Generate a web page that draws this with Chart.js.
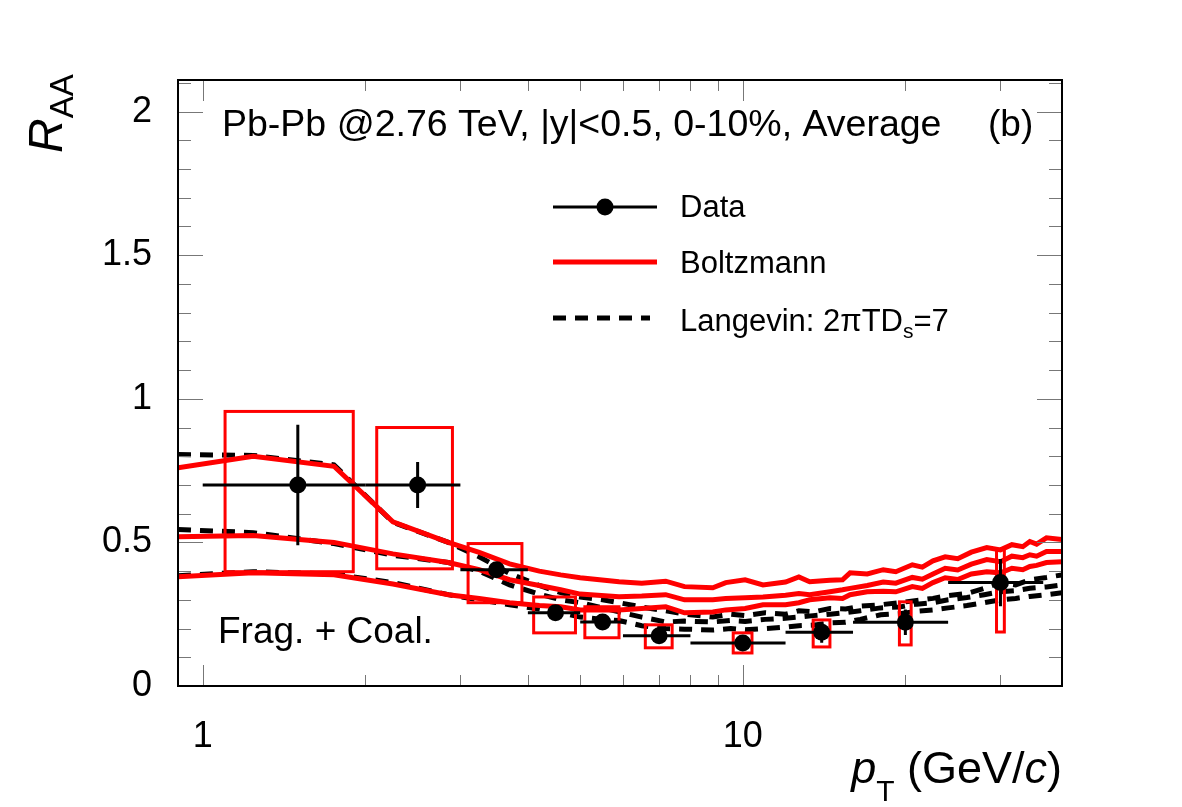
<!DOCTYPE html>
<html>
<head>
<title>RAA Pb-Pb 2.76 TeV</title>
<script src="https://cdn.jsdelivr.net/npm/chart.js@4.4.2/dist/chart.umd.min.js"></script>
<style>
  body { margin: 0; background: #fff; }
  #box { width: 1182px; height: 807px; }
</style>
</head>
<body>
<div id="box"><canvas id="raaChart" width="1182" height="807"></canvas></div>
<script>
// ---- data ----
const dataPt   = [1.5, 2.5, 3.5, 4.5, 5.5, 7, 10, 14, 20, 30];
const dataLow  = [1, 2, 3, 4, 5, 6, 8, 12, 16, 24];
const dataHigh = [2, 3, 4, 5, 6, 8, 12, 16, 24, 36];
const dataRaa  = [0.70, 0.70, 0.405, 0.255, 0.223, 0.175, 0.150, 0.187, 0.222, 0.36];
const statErr  = [0.21, 0.08, 0.02, 0.015, 0.015, 0.012, 0.012, 0.036, 0.044, 0.082];
const sysLow   = [0.398, 0.408, 0.29, 0.185, 0.168, 0.133, 0.115, 0.136, 0.143, 0.188];
const sysHigh  = [0.956, 0.90, 0.496, 0.31, 0.276, 0.213, 0.185, 0.23, 0.293, 0.475];
const sysHalf  = [0.4, 0.4, 0.4, 0.4, 0.4, 0.4, 0.4, 0.5, 0.5, 0.5];

const boltzX = [0.9, 1.24, 1.75, 2.25, 2.85, 3.25, 3.7, 4.2, 4.6, 5.0, 5.9, 6.5, 7.2, 7.8, 8.8, 9.3, 10.1, 10.9,
  12.0, 12.7, 13.3, 14.5, 15.3, 15.8, 17.0, 18.2, 19.2, 20.6, 21.5, 22.5, 23.7, 25.0, 26.5, 28.3, 30.0, 31.5,
  33.0, 34.0, 35.0, 36.5, 39.0];
const boltzTop = [0.76, 0.80, 0.765, 0.572, 0.50, 0.465, 0.425, 0.40, 0.387, 0.377, 0.363, 0.358, 0.365, 0.346,
  0.342, 0.36, 0.37, 0.352, 0.362, 0.38, 0.363, 0.368, 0.37, 0.394, 0.39, 0.405, 0.398, 0.422, 0.414, 0.436,
  0.45, 0.443, 0.466, 0.482, 0.474, 0.492, 0.485, 0.503, 0.494, 0.516, 0.51];
const boltzMid = [0.52, 0.524, 0.50, 0.46, 0.43, 0.405, 0.37, 0.35, 0.335, 0.32, 0.311, 0.313, 0.318, 0.30,
  0.30, 0.305, 0.307, 0.31, 0.316, 0.322, 0.318, 0.328, 0.335, 0.34, 0.35, 0.362, 0.358, 0.378, 0.372, 0.39,
  0.41, 0.404, 0.424, 0.44, 0.433, 0.452, 0.447, 0.457, 0.452, 0.468, 0.468];
const boltzBot = [0.38, 0.394, 0.387, 0.355, 0.318, 0.305, 0.29, 0.28, 0.276, 0.265, 0.265, 0.27, 0.276, 0.255,
  0.258, 0.265, 0.27, 0.283, 0.283, 0.29, 0.30, 0.307, 0.305, 0.318, 0.328, 0.33, 0.328, 0.346, 0.34, 0.36,
  0.377, 0.371, 0.39, 0.398, 0.394, 0.41, 0.405, 0.416, 0.42, 0.43, 0.433];

const langX = [0.9, 1.24, 1.75, 2.25, 2.85, 3.25, 3.7, 4.2, 4.6, 5.0, 5.5, 5.9, 6.5, 7.2, 7.8, 8.8, 9.5, 10.1,
  11.0, 12.0, 12.7, 13.5, 14.5, 15.5, 16.5, 18.0, 19.5, 21.0, 22.5, 24.0, 26.0, 28.0, 30.0, 32.0, 34.0, 36.5, 39.0];
const langTop = [0.806, 0.803, 0.77, 0.57, 0.50, 0.45, 0.392, 0.35, 0.325, 0.31, 0.30, 0.29, 0.275, 0.262, 0.25,
  0.24, 0.25, 0.245, 0.255, 0.25, 0.262, 0.258, 0.27, 0.268, 0.278, 0.283, 0.29, 0.298, 0.305, 0.315, 0.322,
  0.34, 0.36, 0.352, 0.37, 0.378, 0.387];
const langMid = [0.545, 0.534, 0.496, 0.455, 0.43, 0.40, 0.352, 0.32, 0.30, 0.29, 0.272, 0.258, 0.24, 0.223,
  0.226, 0.223, 0.228, 0.225, 0.232, 0.236, 0.24, 0.245, 0.25, 0.255, 0.262, 0.272, 0.275, 0.285, 0.29, 0.30,
  0.308, 0.318, 0.328, 0.332, 0.34, 0.345, 0.352];
const langBot = [0.384, 0.398, 0.39, 0.36, 0.318, 0.30, 0.283, 0.268, 0.255, 0.24, 0.232, 0.228, 0.21, 0.20,
  0.198, 0.195, 0.2, 0.196, 0.2, 0.205, 0.21, 0.212, 0.22, 0.222, 0.232, 0.248, 0.252, 0.26, 0.265, 0.272,
  0.28, 0.29, 0.30, 0.305, 0.312, 0.318, 0.325];

const xLabelVals = [1, 10];
const xMinorVals = [2, 3, 4, 5, 6, 7, 8, 9, 20, 30];
const yLabelVals = [0, 0.5, 1, 1.5, 2];
const yMinorVals = [0.1, 0.2, 0.3, 0.4, 0.6, 0.7, 0.8, 0.9, 1.1, 1.2, 1.3, 1.4, 1.6, 1.7, 1.8, 1.9, 2.0, 2.1];

const FONT = '"Liberation Sans", Arial, Helvetica, sans-serif';
const RED = '#ff0000';

function pts(xs, ys) { return xs.map((x, i) => ({ x: x, y: ys[i] })); }

function redLine(ys) {
  return { data: pts(boltzX, ys), borderColor: RED, borderWidth: 5, pointRadius: 0, fill: false, tension: 0 };
}
function dashLine(ys) {
  return { data: pts(langX, ys), borderColor: '#000', borderWidth: 5, borderDash: [13, 9],
    pointRadius: 0, fill: false, tension: 0 };
}

// draws a sequence of text pieces, each {t, font, dy}
function drawParts(ctx, parts, x, y, align) {
  let total = 0;
  parts.forEach(p => { ctx.font = p.font; total += ctx.measureText(p.t).width; });
  let cx = align === 'right' ? x - total : x;
  ctx.textAlign = 'left';
  ctx.textBaseline = 'alphabetic';
  parts.forEach(p => {
    ctx.font = p.font;
    ctx.fillText(p.t, cx, y + (p.dy || 0));
    cx += ctx.measureText(p.t).width;
  });
}

const rootDecor = {
  id: 'rootDecor',
  beforeDatasetDraw(chart, args) {
    if (args.index !== 0) return;
    const { ctx, scales: { x, y } } = chart;
    ctx.save();
    // systematic boxes
    ctx.strokeStyle = RED;
    ctx.lineWidth = 3;
    dataPt.forEach((pt, i) => {
      const x0 = x.getPixelForValue(pt - sysHalf[i]);
      const x1 = x.getPixelForValue(pt + sysHalf[i]);
      const y0 = y.getPixelForValue(sysHigh[i]);
      const y1 = y.getPixelForValue(sysLow[i]);
      ctx.strokeRect(x0, y0, x1 - x0, y1 - y0);
    });
    // bin widths and statistical errors
    ctx.strokeStyle = '#000';
    ctx.lineWidth = 3;
    dataPt.forEach((pt, i) => {
      const py = y.getPixelForValue(dataRaa[i]);
      const px = x.getPixelForValue(pt);
      ctx.beginPath();
      ctx.moveTo(x.getPixelForValue(dataLow[i]), py);
      ctx.lineTo(x.getPixelForValue(dataHigh[i]), py);
      ctx.moveTo(px, y.getPixelForValue(dataRaa[i] - statErr[i]));
      ctx.lineTo(px, y.getPixelForValue(dataRaa[i] + statErr[i]));
      ctx.stroke();
    });
    ctx.restore();
  },
  afterDraw(chart) {
    const { ctx, chartArea: a, scales: { x, y } } = chart;
    ctx.save();
    // tick marks on all four sides
    ctx.strokeStyle = '#777';
    ctx.lineWidth = 1;
    ctx.beginPath();
    const xTick = (v, len) => {
      const px = Math.round(x.getPixelForValue(v)) + 0.5;
      ctx.moveTo(px, a.bottom); ctx.lineTo(px, a.bottom - len);
      ctx.moveTo(px, a.top); ctx.lineTo(px, a.top + len);
    };
    const yTick = (v, len) => {
      const py = Math.round(y.getPixelForValue(v)) + 0.5;
      ctx.moveTo(a.left, py); ctx.lineTo(a.left + len, py);
      ctx.moveTo(a.right, py); ctx.lineTo(a.right - len, py);
    };
    xLabelVals.forEach(v => xTick(v, 21));
    xMinorVals.forEach(v => xTick(v, 11));
    yLabelVals.forEach(v => yTick(v, 25));
    yMinorVals.forEach(v => yTick(v, 13));
    ctx.stroke();

    // frame
    ctx.strokeStyle = '#000';
    ctx.lineWidth = 2;
    ctx.strokeRect(a.left, a.top, a.right - a.left, a.bottom - a.top);

    ctx.fillStyle = '#000';
    // header texts
    drawParts(ctx, [{ t: 'Pb-Pb @2.76 TeV, |y|<0.5, 0-10%, Average', font: '37.5px ' + FONT }], 222, 136, 'left');
    drawParts(ctx, [{ t: '(b)', font: '37px ' + FONT }], 988, 136, 'left');
    drawParts(ctx, [{ t: 'Frag. + Coal.', font: '37px ' + FONT }], 218, 643, 'left');

    // legend
    ctx.lineWidth = 3;
    ctx.strokeStyle = '#000';
    ctx.beginPath(); ctx.moveTo(553, 207); ctx.lineTo(657, 207); ctx.stroke();
    ctx.beginPath(); ctx.arc(605, 207, 8.5, 0, Math.PI * 2); ctx.fill();
    ctx.strokeStyle = RED; ctx.lineWidth = 5;
    ctx.beginPath(); ctx.moveTo(553, 262); ctx.lineTo(657, 262); ctx.stroke();
    ctx.strokeStyle = '#000';
    ctx.setLineDash([13, 9]);
    ctx.beginPath(); ctx.moveTo(553, 318); ctx.lineTo(650, 318); ctx.stroke();
    ctx.setLineDash([]);
    const lf = '31px ' + FONT;
    drawParts(ctx, [{ t: 'Data', font: lf }], 680, 217, 'left');
    drawParts(ctx, [{ t: 'Boltzmann', font: lf }], 680, 273, 'left');
    drawParts(ctx, [{ t: 'Langevin: 2\u03c0TD', font: lf }, { t: 's', font: '21px ' + FONT, dy: 7 },
      { t: '=7', font: lf }], 680, 331, 'left');

    // x axis title
    drawParts(ctx, [
      { t: 'p', font: 'italic 45px ' + FONT },
      { t: 'T', font: '30px ' + FONT, dy: 18 },
      { t: ' (GeV/', font: '45px ' + FONT },
      { t: 'c', font: 'italic 45px ' + FONT },
      { t: ')', font: '45px ' + FONT }
    ], 1062, 783, 'right');

    // y axis title (rotated)
    ctx.translate(62, 153);
    ctx.rotate(-Math.PI / 2);
    drawParts(ctx, [
      { t: 'R', font: 'italic 48px ' + FONT },
      { t: 'AA', font: '33px ' + FONT, dy: 11 }
    ], 0, 0, 'left');
    ctx.restore();
  }
};

const ctx = document.getElementById('raaChart').getContext('2d');
const raaChart = new Chart(ctx, {
  type: 'line',
  data: {
    datasets: [
      { data: pts(dataPt, dataRaa), showLine: false, pointRadius: 8.5, pointHoverRadius: 8.5,
        pointBackgroundColor: '#000', pointBorderWidth: 0, borderColor: '#000' },
      redLine(boltzTop), redLine(boltzMid), redLine(boltzBot),
      dashLine(langTop), dashLine(langMid), dashLine(langBot)
    ]
  },
  options: {
    responsive: false,
    animation: false,
    devicePixelRatio: 1,
    layout: { padding: { top: 80, right: 120, left: 0, bottom: 0 } },
    plugins: { legend: { display: false }, tooltip: { enabled: false } },
    scales: {
      x: {
        type: 'logarithmic', min: 0.9, max: 39,
        grid: { display: false, drawTicks: false }, border: { display: false },
        afterBuildTicks: axis => { axis.ticks = xLabelVals.map(v => ({ value: v })); },
        afterFit: axis => { axis.height = 121; },
        ticks: { color: '#000', font: { family: FONT, size: 36 }, padding: 29, maxRotation: 0, autoSkip: false,
          callback: v => String(v) }
      },
      y: {
        type: 'linear', min: 0, max: 2.11,
        grid: { display: false, drawTicks: false }, border: { display: false },
        afterBuildTicks: axis => { axis.ticks = yLabelVals.map(v => ({ value: v })); },
        afterFit: axis => { axis.width = 178; },
        ticks: { color: '#000', font: { family: FONT, size: 36 }, padding: 26, autoSkip: false,
          callback: v => String(v) }
      }
    }
  },
  plugins: [rootDecor]
});
</script>
</body>
</html>
